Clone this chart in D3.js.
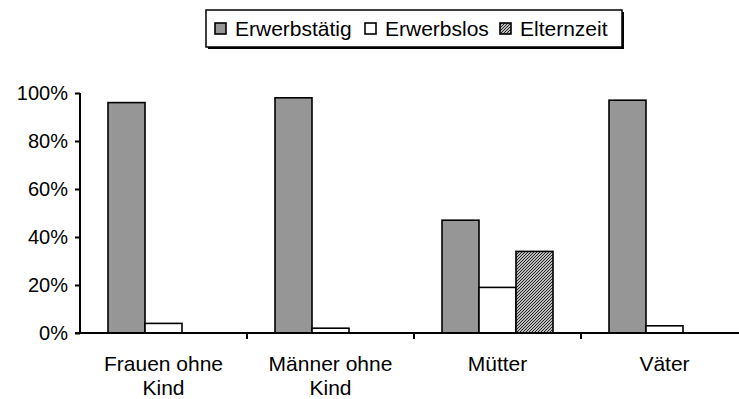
<!DOCTYPE html>
<html><head><meta charset="utf-8">
<script src="https://cdn.jsdelivr.net/npm/d3@7"></script>
<style>body{margin:0;background:#fff}svg{display:block}text{font-family:"Liberation Sans",Arial,sans-serif;fill:#000}</style>
</head><body><svg id="c" width="739" height="399"></svg>
<script>
const categories = [["Frauen ohne","Kind"],["Männer ohne","Kind"],["Mütter"],["Väter"]];
const seriesNames = ["Erwerbstätig","Erwerbslos","Elternzeit"];
const erwerbstaetig = [0.96, 0.98, 0.47, 0.97];
const erwerbslos = [0.04, 0.02, 0.19, 0.03];
const elternzeit = [0, 0, 0.34, 0];
const yTicks = [0, 0.2, 0.4, 0.6, 0.8, 1.0];

const seriesValues = [erwerbstaetig, erwerbslos, elternzeit];
const svg = d3.select("#c");
const defs = svg.append("defs");
const pat = defs.append("pattern").attr("id","hatch").attr("patternUnits","userSpaceOnUse").attr("width",3).attr("height",3);
pat.append("rect").attr("width",3).attr("height",3).attr("fill","#fff");
pat.append("path").attr("d","M-1,1 l2,-2 M0,3 l3,-3 M2,4 l2,-2").attr("stroke","#222").attr("stroke-width",1.2);
const fills = ["#969696","#ffffff","url(#hatch)"];

const catKeys = categories.map(c=>c.join(" "));
const x0 = d3.scaleBand().domain(catKeys).range([80, 748]).paddingInner(0).paddingOuter(0);
const x1 = d3.scaleBand().domain(seriesNames).range([28, 139]).padding(0);
const y = d3.scaleLinear().domain([0,1]).range([333, 93]);

// bars
const g = svg.append("g");
catKeys.forEach((k,i)=>{
  seriesNames.forEach((s,j)=>{
    const v = seriesValues[j][i];
    if (v <= 0) return;
    g.append("rect")
      .attr("x", x0(k)+x1(s)).attr("y", y(v))
      .attr("width", x1.bandwidth()).attr("height", y(0)-y(v))
      .attr("fill", fills[j]).attr("stroke","#000").attr("stroke-width",1.6);
  });
});

// y axis
const ya = svg.append("g").attr("transform","translate(80,0)")
  .call(d3.axisLeft(y).tickValues(yTicks).tickFormat(d3.format(".0%")).tickSize(5).tickPadding(7));
ya.select(".domain").attr("stroke","#000").attr("stroke-width",2).attr("d","M0,"+y(1)+"V"+y(0));
ya.selectAll(".tick line").attr("stroke","#000").attr("stroke-width",2);
ya.selectAll(".tick text").attr("font-size",20).attr("font-family","Liberation Sans, Arial, sans-serif").attr("fill","#000");

// x axis
const xa = svg.append("g").attr("transform","translate(0,"+y(0)+")");
xa.append("line").attr("x1",75).attr("x2",739).attr("y1",0).attr("y2",0).attr("stroke","#000").attr("stroke-width",2);
catKeys.slice(1).forEach(k=>{
  xa.append("line").attr("x1",x0(k)).attr("x2",x0(k)).attr("y1",0).attr("y2",6).attr("stroke","#000").attr("stroke-width",2);
});
categories.forEach((c,i)=>{
  const cx = x0(catKeys[i]) + x0.bandwidth()/2;
  const t = xa.append("text").attr("text-anchor","middle").attr("font-size",21)
    .attr("x", cx).attr("y", 38);
  c.forEach((line,li)=> t.append("tspan").attr("x", cx).attr("dy", li===0?0:24).text(line));
});

// legend
const lg = svg.append("g");
lg.append("rect").attr("x",208).attr("y",12).attr("width",416).attr("height",37).attr("fill","#000");
lg.append("rect").attr("x",206).attr("y",10).attr("width",416).attr("height",37).attr("fill","#fff").attr("stroke","#000").attr("stroke-width",1.5);
const legX = [215, 365, 500];
seriesNames.forEach((s,j)=>{
  lg.append("rect").attr("x",legX[j]).attr("y",23).attr("width",11).attr("height",11)
    .attr("fill",fills[j]).attr("stroke","#000").attr("stroke-width",1.6);
  lg.append("text").attr("x",legX[j]+20).attr("y",36).attr("font-size",21).text(s);
});
</script></body></html>
